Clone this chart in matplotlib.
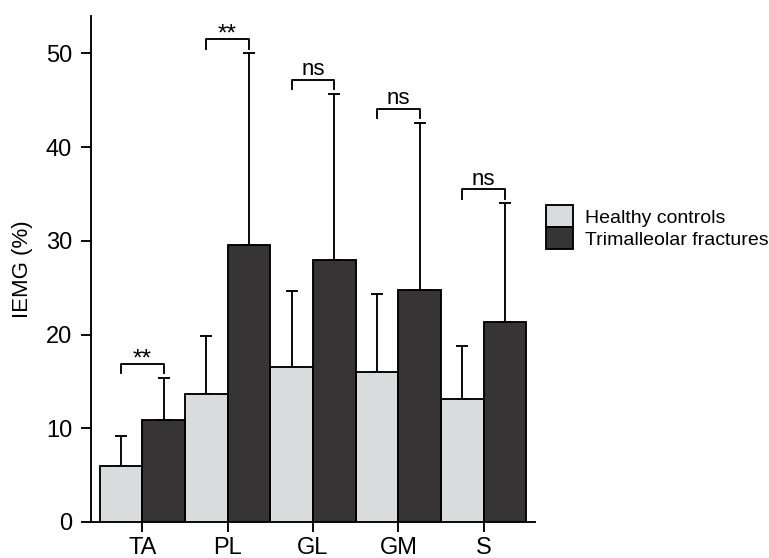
import numpy as np
import matplotlib
matplotlib.use('Agg')
import matplotlib.pyplot as plt

plt.rcParams['font.family'] = ['Liberation Sans', 'DejaVu Sans']

# data
muscles = ['TA', 'PL', 'GL', 'GM', 'S']
healthy = [6.0, 13.7, 16.5, 16.0, 13.1]
healthy_sd = [3.2, 6.1, 8.2, 8.3, 5.7]
fracture = [10.9, 29.6, 28.0, 24.8, 21.3]
fracture_sd = [4.5, 20.4, 17.7, 17.8, 12.7]
signif = ['**', '**', 'ns', 'ns', 'ns']

lightCol = '#d9dcdc'
darkCol = '#363435'
lw = 1.35

fig = plt.figure(figsize=(7.69, 5.58), dpi=100)
ax = fig.add_axes([91/769, 1 - 522/558, (535 - 91)/769, (522 - 16)/558])

x = np.arange(len(muscles))
w = 0.5

ax.bar(x - w/2, healthy, width=w, color=lightCol, edgecolor='black', lw=lw,
       zorder=3, label='Healthy controls')
ax.bar(x + w/2, fracture, width=w, color=darkCol, edgecolor='black', lw=lw,
       zorder=3, label='Trimalleolar fractures')

zeros = np.zeros(len(muscles))
ax.errorbar(x - w/2, healthy, yerr=[zeros, healthy_sd], fmt='none',
            ecolor='black', elinewidth=lw, capsize=4.5, capthick=lw, zorder=2)
ax.errorbar(x + w/2, fracture, yerr=[zeros, fracture_sd], fmt='none',
            ecolor='black', elinewidth=lw, capsize=4.5, capthick=lw, zorder=2)

# significance brackets
for i, s in enumerate(signif):
    top = fracture[i] + fracture_sd[i] + 1.5
    ax.plot([x[i] - w/2, x[i] - w/2, x[i] + w/2, x[i] + w/2],
            [top - 1.0, top, top, top - 1.0], color='black', lw=lw,
            clip_on=False)
    if s == 'ns':
        ax.text(x[i], top + 0.5, s, ha='center', va='baseline', fontsize=16)
    else:
        ax.text(x[i], top - 0.15, s, ha='center', va='baseline', fontsize=17.5)

ax.set_xlim(-0.6, 4.6)
ax.set_ylim(0, 54)
ax.set_xticks(x)
ax.set_xticklabels(muscles)
ax.set_yticks(np.arange(0, 51, 10))

for sp in ['top', 'right']:
    ax.spines[sp].set_visible(False)
for sp in ['left', 'bottom']:
    ax.spines[sp].set_linewidth(lw)

ax.tick_params(axis='both', direction='out', length=7.5, width=lw,
               labelsize=17)
ax.tick_params(axis='y', pad=6)
ax.tick_params(axis='x', pad=3.5)
ax.set_ylabel('IEMG (%)', fontsize=16)
ax.yaxis.set_label_coords(-0.131, 0.5)

fig.legend(loc='center left', bbox_to_anchor=(546/769, 1 - 227.4/558),
           frameon=False, fontsize=14, handlelength=1.39, handleheight=1.37,
           labelspacing=0, handletextpad=0.62, borderpad=0, borderaxespad=0)

plt.savefig('out.png', dpi=100)
